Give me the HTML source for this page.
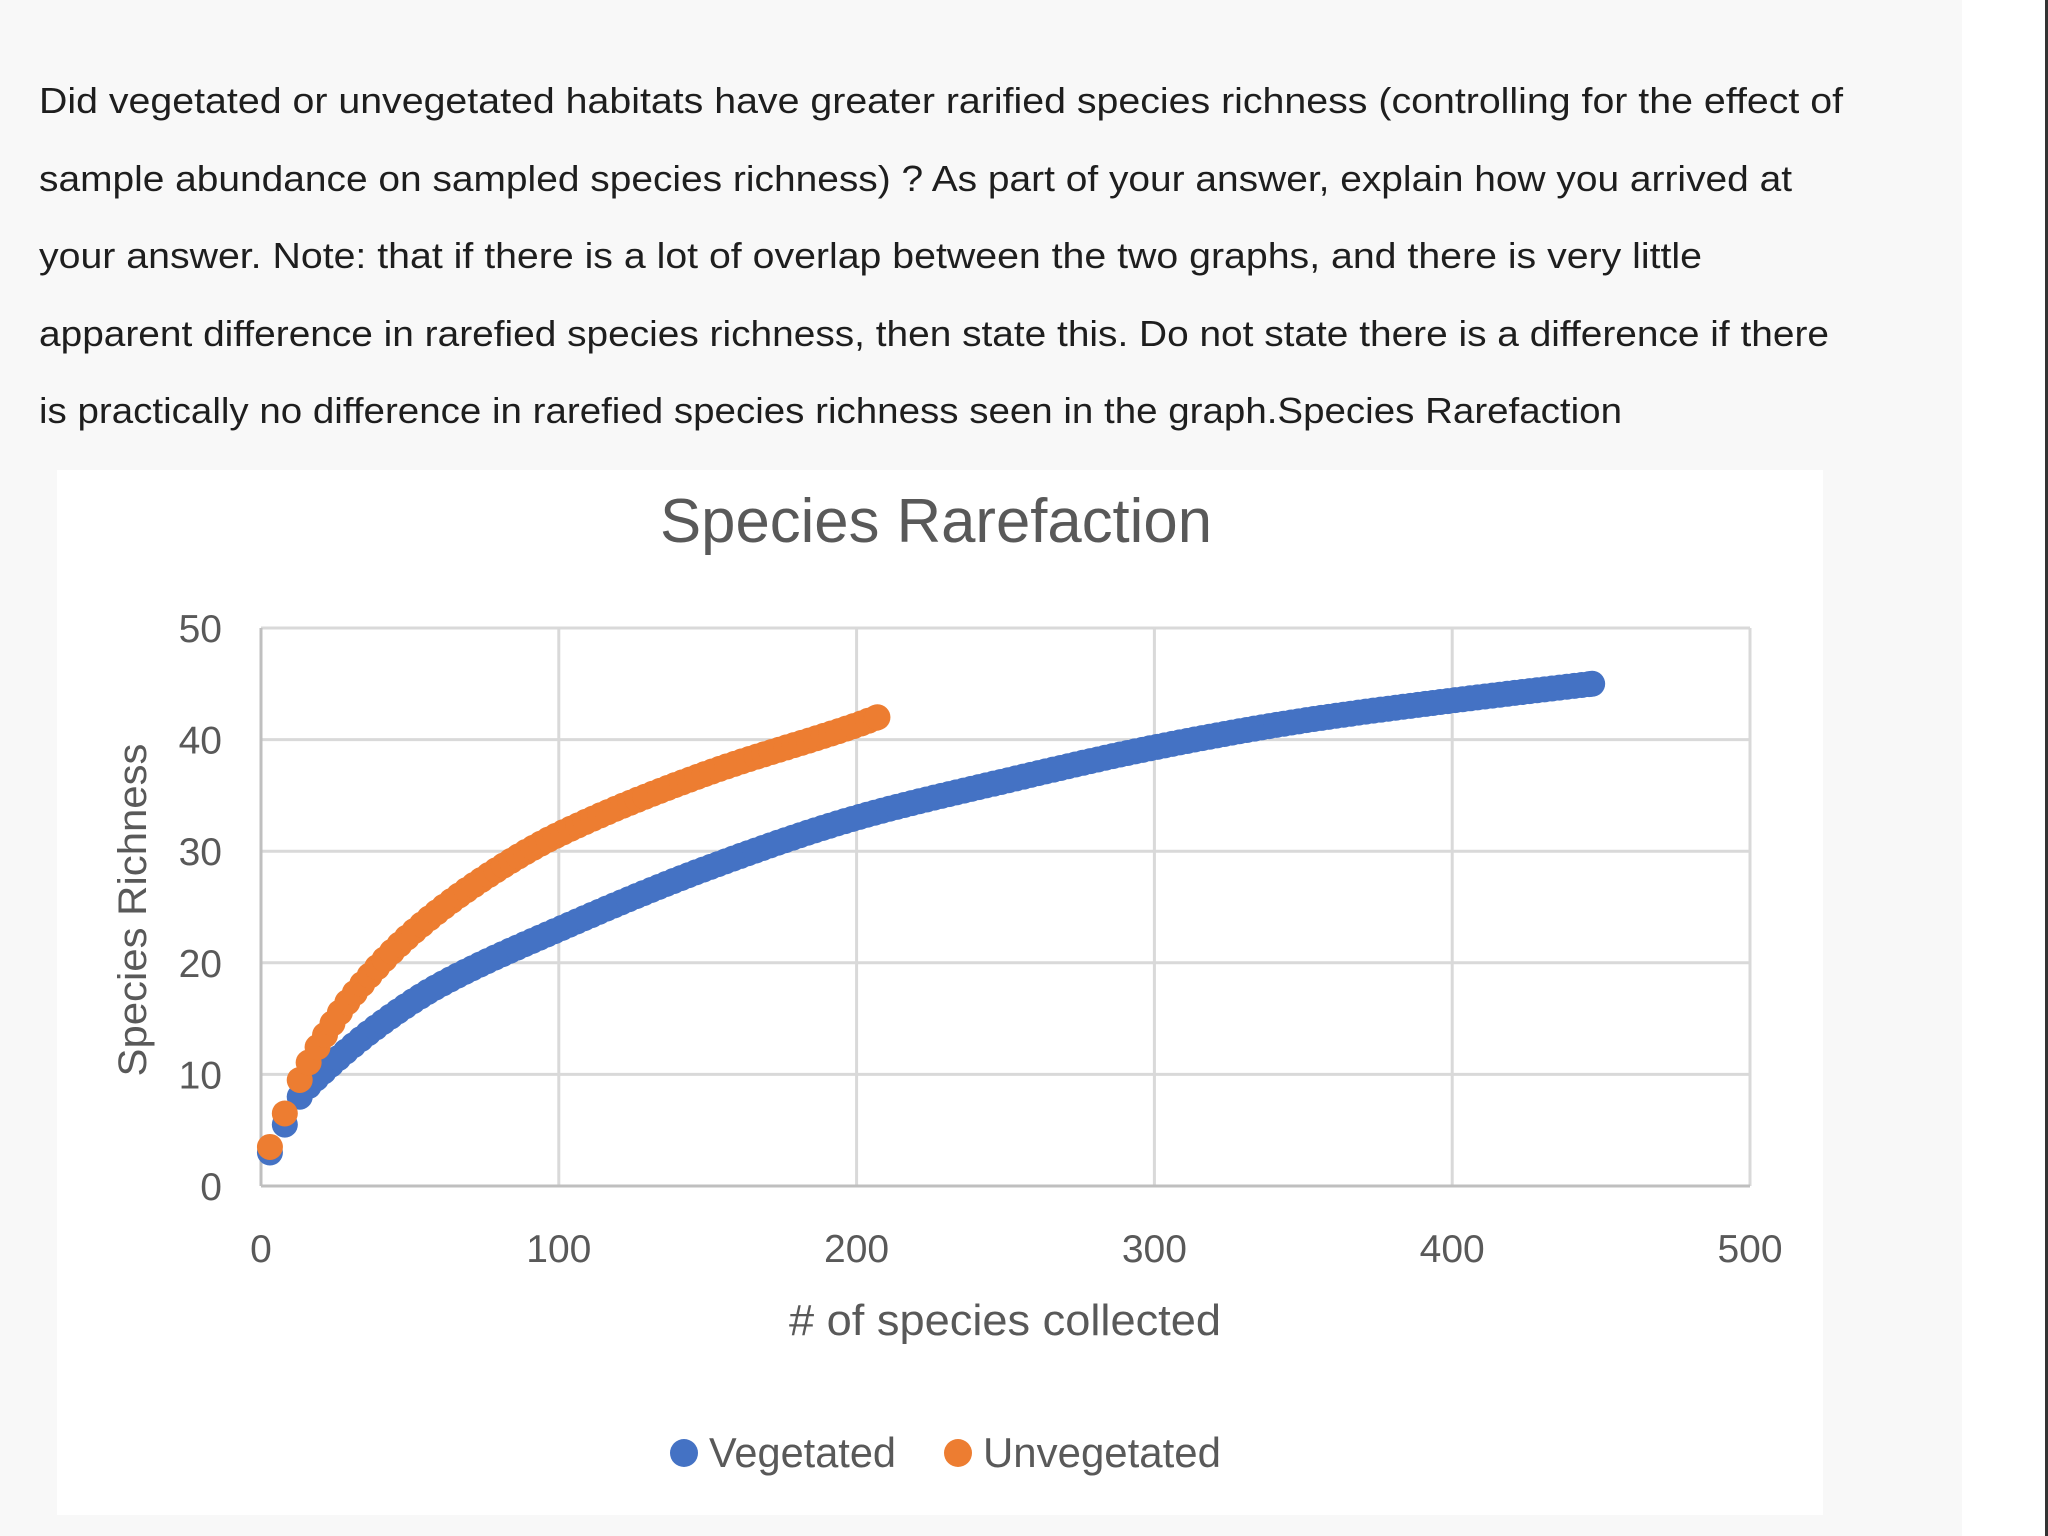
<!DOCTYPE html>
<html><head><meta charset="utf-8"><style>
html,body{margin:0;padding:0;background:#fff;}
svg{display:block;}
</style></head><body>
<svg id="s" width="2048" height="1536" viewBox="0 0 2048 1536" xmlns="http://www.w3.org/2000/svg">
<rect x="0" y="0" width="1962" height="1536" fill="#f8f8f8"/>
<rect x="1962" y="0" width="86" height="1536" fill="#ffffff"/>
<rect x="2045" y="0" width="3" height="1536" fill="#333"/>
<g font-family="Liberation Sans, sans-serif" font-size="36" fill="#1e1e1e">
<text x="39" y="113" textLength="1804" lengthAdjust="spacingAndGlyphs">Did vegetated or unvegetated habitats have greater rarified species richness (controlling for the effect of</text>
<text x="39" y="191" textLength="1753" lengthAdjust="spacingAndGlyphs">sample abundance on sampled species richness) ?  As part of your answer, explain how you arrived at</text>
<text x="39" y="268" textLength="1663" lengthAdjust="spacingAndGlyphs">your answer. Note: that if there is a lot of overlap between the two graphs, and there is very little</text>
<text x="39" y="346" textLength="1790" lengthAdjust="spacingAndGlyphs">apparent difference in rarefied species richness, then state this. Do not state there is a difference if there</text>
<text x="39" y="423" textLength="1583" lengthAdjust="spacingAndGlyphs">is practically no difference in rarefied species richness seen in the graph.Species Rarefaction</text>
</g>
<rect x="57" y="470" width="1766" height="1045" fill="#ffffff"/>
<text x="660" y="542" font-family="Liberation Sans, sans-serif" font-size="62" fill="#595959" textLength="552" lengthAdjust="spacingAndGlyphs">Species Rarefaction</text>
<g id="grid" stroke="#d9d9d9" stroke-width="3" fill="none"></g>
<g id="pts"></g>
<g font-family="Liberation Sans, sans-serif" font-size="39" fill="#595959" id="lbl"></g>
<text x="1005" y="1335" text-anchor="middle" font-family="Liberation Sans, sans-serif" font-size="44" fill="#595959" textLength="432" lengthAdjust="spacingAndGlyphs">#  of species collected</text>
<text transform="translate(146,910) rotate(-90)" text-anchor="middle" font-family="Liberation Sans, sans-serif" font-size="40" fill="#595959" textLength="333" lengthAdjust="spacingAndGlyphs">Species Richness</text>
<circle cx="684" cy="1453" r="14" fill="#4472C4"/>
<text x="709" y="1467" font-family="Liberation Sans, sans-serif" font-size="42" fill="#595959" textLength="187" lengthAdjust="spacingAndGlyphs">Vegetated</text>
<circle cx="958" cy="1453" r="14" fill="#ED7D31"/>
<text x="983" y="1467" font-family="Liberation Sans, sans-serif" font-size="42" fill="#595959" textLength="238" lengthAdjust="spacingAndGlyphs">Unvegetated</text>
</svg>
<script>
var NS="http://www.w3.org/2000/svg";
var X0=261,X1=1750,Y0=1186,Y1=628;
function px(x){return X0+(X1-X0)*x/500;}
function py(y){return Y0+(Y1-Y0)*y/50;}
var g=document.getElementById('grid'),l=document.getElementById('lbl'),p=document.getElementById('pts');
function el(t,a,par){var e=document.createElementNS(NS,t);for(var k in a)e.setAttribute(k,a[k]);par.appendChild(e);return e;}
for(var i=0;i<=5;i++){var y=py(i*10);el('line',{x1:X0,x2:X1,y1:y,y2:y},g);
 var t=el('text',{x:222,y:y+14,'text-anchor':'end'},l);t.textContent=i*10;}
for(var i=0;i<=5;i++){var x=px(i*100);el('line',{x1:x,x2:x,y1:Y1,y2:Y0},g);
 var t=el('text',{x:x,y:1262,'text-anchor':'middle'},l);t.textContent=i*100;}
el('line',{x1:X0,x2:X1,y1:Y0,y2:Y0,stroke:'#bfbfbf'},g);
el('line',{x1:X0,x2:X0,y1:Y1,y2:Y0,stroke:'#bfbfbf'},g);
function mk(a){var n=a.length,d=[],m=[];
 for(var i=0;i<n-1;i++)d.push((a[i+1][1]-a[i][1])/(a[i+1][0]-a[i][0]));
 m[0]=d[0];m[n-1]=d[n-2];
 for(var i=1;i<n-1;i++){m[i]=(d[i-1]*d[i]<=0)?0:2/(1/d[i-1]+1/d[i]);}
 return function(x){for(var i=0;i<n-1;i++){if(x<=a[i+1][0]){var h=a[i+1][0]-a[i][0],t=(x-a[i][0])/h,t2=t*t,t3=t2*t;
  return (2*t3-3*t2+1)*a[i][1]+(t3-2*t2+t)*h*m[i]+(-2*t3+3*t2)*a[i+1][1]+(t3-t2)*h*m[i+1];}}return a[n-1][1];};}
var veg=mk([[3,3],[8,5.5],[13,8],[20,10],[40,14.5],[60,18],[100,23],[150,28.5],[200,33],[250,36.3],[300,39.3],[350,41.7],[400,43.5],[447,45]]);
var unv=mk([[3,3.5],[8,6.5],[13,9.5],[18,12],[30,16.8],[50,22.5],[75,27.6],[100,31.5],[150,37],[200,41.3],[207,42]]);
function draw(f,col,xs){xs.forEach(function(x){el('circle',{cx:px(x),cy:py(f(x)),r:13,fill:col},p);});}
var xv=[3,8,13];for(var x=16;x<=447;x+=2.5)xv.push(x);xv.push(447);
var xu=[3,8,13,16];for(var x=19;x<=207;x+=2.5)xu.push(x);xu.push(207);
draw(veg,'#4472C4',xv);draw(unv,'#ED7D31',xu);
</script>
</body></html>
